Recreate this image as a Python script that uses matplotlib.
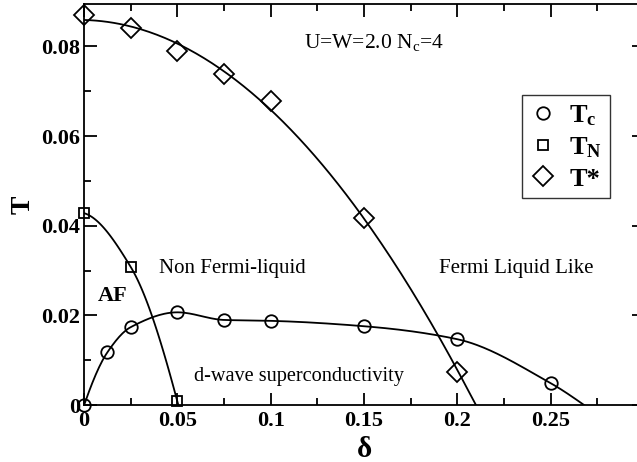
import numpy as np
import matplotlib.pyplot as plt
from matplotlib.ticker import MultipleLocator

plt.rcParams['font.family'] = 'Liberation Serif'
plt.rcParams['mathtext.fontset'] = 'custom'
plt.rcParams['mathtext.rm'] = 'Liberation Serif'
plt.rcParams['mathtext.bf'] = 'Liberation Serif:bold'

# data
tc_x = [0.0, 0.0125, 0.025, 0.05, 0.075, 0.1, 0.15, 0.2, 0.25]
tc_y = [0.0, 0.0118, 0.0174, 0.0207, 0.0190, 0.0188, 0.0176, 0.0147, 0.0049]
tn_x = [0.0, 0.025, 0.05]
tn_y = [0.0428, 0.0308, 0.0009]
ts_x = [0.0, 0.025, 0.05, 0.075, 0.1, 0.15, 0.2]
ts_y = [0.0869, 0.0840, 0.0789, 0.0738, 0.0678, 0.0417, 0.0074]

# where the guide lines reach T=0
tc_end = 0.268
tn_end = 0.0505
ts_end = 0.210


def pchip(x, y, xx):
    # monotone cubic through the given points, used as a smooth guide line
    x = np.asarray(x, float)
    y = np.asarray(y, float)
    h = np.diff(x)
    d = np.diff(y) / h
    m = np.zeros_like(y)
    for k in range(1, len(x) - 1):
        if d[k - 1] * d[k] > 0:
            w1 = 2 * h[k] + h[k - 1]
            w2 = h[k] + 2 * h[k - 1]
            m[k] = (w1 + w2) / (w1 / d[k - 1] + w2 / d[k])
    m[0] = ((2 * h[0] + h[1]) * d[0] - h[0] * d[1]) / (h[0] + h[1])
    if np.sign(m[0]) != np.sign(d[0]):
        m[0] = 0
    m[-1] = ((2 * h[-1] + h[-2]) * d[-1] - h[-1] * d[-2]) / (h[-1] + h[-2])
    if np.sign(m[-1]) != np.sign(d[-1]):
        m[-1] = 0
    i = np.clip(np.searchsorted(x, xx) - 1, 0, len(x) - 2)
    t = (xx - x[i]) / h[i]
    h00 = 2 * t**3 - 3 * t**2 + 1
    h10 = t**3 - 2 * t**2 + t
    h01 = -2 * t**3 + 3 * t**2
    h11 = t**3 - t**2
    return h00 * y[i] + h10 * h[i] * m[i] + h01 * y[i + 1] + h11 * h[i] * m[i + 1]


fig = plt.figure(figsize=(6.37, 4.62), dpi=100)
ax = fig.add_axes([0.132, 0.123, 0.879, 0.868])

# T* : quadratic fit
p = np.polyfit(ts_x + [ts_end], ts_y + [0.0], 2)
xx = np.linspace(0, ts_end, 200)
ax.plot(xx, np.clip(np.polyval(p, xx), 0, None), color='black', lw=1.3)

# T_N
xx = np.linspace(0, tn_end, 100)
ax.plot(xx, np.clip(pchip(tn_x[:-1] + [tn_end], tn_y[:-1] + [0.0], xx), 0, None),
        color='black', lw=1.3)

# T_c
xx = np.linspace(0, tc_end, 300)
ax.plot(xx, np.clip(pchip(tc_x + [tc_end], tc_y + [0.0], xx), 0, None),
        color='black', lw=1.3)

ax.plot(tc_x, tc_y, 'o', ms=9, mfc='none', mec='black', mew=1.3, clip_on=False, label=r'$\mathbf{T_c}$')
ax.plot(tn_x, tn_y, 's', ms=7, mfc='none', mec='black', mew=1.3, clip_on=False, label=r'$\mathbf{T_N}$')
ax.plot(ts_x, ts_y, 'D', ms=10, mfc='none', mec='black', mew=1.3, clip_on=False, label='T*')

ax.set_xlim(0, 0.3)
ax.set_ylim(0, 0.0894)
ax.xaxis.set_minor_locator(MultipleLocator(0.025))
ax.yaxis.set_minor_locator(MultipleLocator(0.01))
ax.set_xticks([0, 0.05, 0.1, 0.15, 0.2, 0.25])
ax.set_xticklabels(['0', '0.05', '0.1', '0.15', '0.2', '0.25'])
ax.set_yticks([0, 0.02, 0.04, 0.06, 0.08])
ax.set_yticklabels(['0', '0.02', '0.04', '0.06', '0.08'])
ax.tick_params(which='both', direction='in', top=True, right=True, width=1.3)
ax.tick_params(which='major', length=9, labelsize=16)
ax.tick_params(axis='y', which='major', pad=3)
ax.tick_params(axis='x', which='major', pad=4)
ax.tick_params(which='minor', length=5)
for lab in ax.get_xticklabels() + ax.get_yticklabels():
    lab.set_fontweight('bold')
for s in ax.spines.values():
    s.set_linewidth(1.3)

ax.set_xlabel('δ', fontsize=21, fontweight='bold', labelpad=4)
ax.set_ylabel('T', fontsize=20, fontweight='bold', labelpad=4)

ax.text(0.118, 0.0795, r'U=W=2.0 N$_\mathrm{c}$=4', fontsize=15.5)
ax.text(0.0075, 0.0232, 'AF', fontsize=16, fontweight='bold')
ax.text(0.040, 0.0295, 'Non Fermi-liquid', fontsize=15)
ax.text(0.190, 0.0295, 'Fermi Liquid Like', fontsize=15)
ax.text(0.059, 0.0054, 'd-wave superconductivity', fontsize=14.6)

leg = ax.legend(loc='upper left', bbox_to_anchor=(0.782, 0.773),
                prop={'size': 19, 'weight': 'bold'},
                frameon=True, fancybox=False, edgecolor='black', handlelength=1.0,
                handletextpad=0.5, borderpad=0.3, labelspacing=0.28, borderaxespad=0)
leg.get_frame().set_linewidth(1.0)

fig.savefig('out.png', dpi=100)
